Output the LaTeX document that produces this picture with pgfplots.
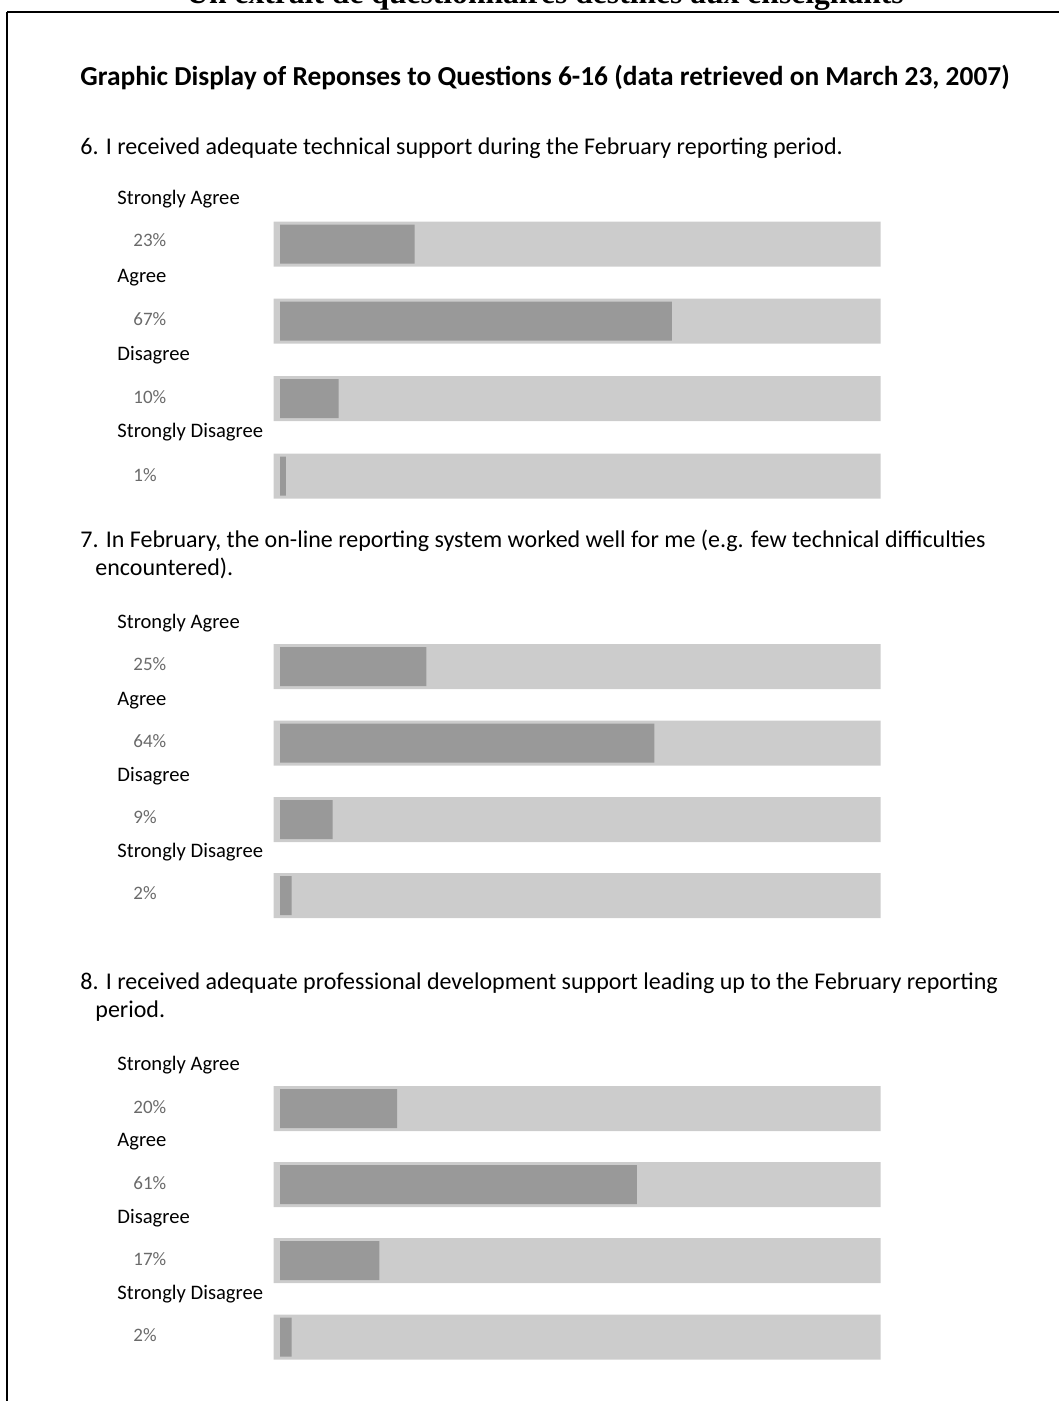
\documentclass[border=0pt]{standalone}
\usepackage{pgfplots}
\usepackage{pgfplotstable}
\pgfplotsset{compat=1.18}
\usepackage{fontspec}
\setmainfont{Carlito}
\newfontfamily\titlefont{Liberation Serif}
\definecolor{bgbar}{HTML}{CCCCCC}
\definecolor{fgbar}{HTML}{999999}
\definecolor{pctcol}{HTML}{6A6A6A}

% pct = response share, ypos = vertical position of the bar (px from top)
\pgfplotstableread{
pct ypos
23 244
67 321
10 398.5
1  476
}\qsix
\pgfplotstableread{
pct ypos
25 666.5
64 743
9  819.5
2  895.5
}\qseven
\pgfplotstableread{
pct ypos
20 1108.5
61 1184.5
17 1260.5
2  1337
}\qeight

\pgfplotsset{
  barpage/.style={
    scale only axis, height=700.5pt,
    xmin=0, xmax=100, ymin=0, ymax=1401, y dir=reverse,
    hide axis, xbar, /pgf/bar shift=0pt, anchor=north west,
  }
}

\begin{document}
\begin{tikzpicture}
\useasboundingbox (0,0) rectangle (529.5pt,-700.5pt);
\clip (0,0) rectangle (529.5pt,-700.5pt);

% background (full) bars
\begin{axis}[barpage, width=303.5pt, at={(136.75pt,0pt)}]
\addplot[fill=bgbar, draw=none, bar width=45] table[x expr=100, y=ypos] {\qsix};
\addplot[fill=bgbar, draw=none, bar width=45] table[x expr=100, y=ypos] {\qseven};
\addplot[fill=bgbar, draw=none, bar width=45] table[x expr=100, y=ypos] {\qeight};
\end{axis}

% response bars
\begin{axis}[barpage, width=292.5pt, at={(140pt,0pt)}]
\addplot[fill=fgbar, draw=none, bar width=39] table[x=pct, y=ypos] {\qsix};
\addplot[fill=fgbar, draw=none, bar width=39] table[x=pct, y=ypos] {\qseven};
\addplot[fill=fgbar, draw=none, bar width=39] table[x=pct, y=ypos] {\qeight};
\end{axis}

\begin{scope}[x=0.5pt, y=-0.5pt]
\node[anchor=base, inner sep=0, font=\titlefont\bfseries\fontsize{15.8}{18}\selectfont] at (545,4) {Un extrait de questionnaires destinés aux enseignants};
\draw[line width=1.25pt] (7,12) -- (1059,12);
\draw[line width=1.25pt] (7,12) -- (7,1401);

\node[anchor=base west, inner sep=0, font=\bfseries\fontsize{13.7}{16}\selectfont] at (80,86) {Graphic Display of Reponses to Questions 6-16 (data retrieved on March 23, 2007)};

\tikzset{qtext/.style={anchor=base west, inner sep=0, font=\fontsize{12}{14}\selectfont},
         lab/.style={anchor=base west, inner sep=0, font=\fontsize{10.3}{12}\selectfont},
         pc/.style={anchor=base west, inner sep=0, text=pctcol, font=\fontsize{9.5}{11}\selectfont}}

\node[qtext] at (80,155) {6. I received adequate technical support during the February reporting period.};
\node[qtext] at (80,547) {7. In February, the on-line reporting system worked well for me (e.g. few technical difficulties};
\node[qtext] at (95,575) {encountered).};
\node[qtext] at (80,989) {8. I received adequate professional development support leading up to the February reporting};
\node[qtext] at (95,1017) {period.};

% Q6 labels
\node[lab] at (117,205) {Strongly Agree};
\node[pc]  at (133,247) {23\%};
\node[lab] at (117,283) {Agree};
\node[pc]  at (133,326) {67\%};
\node[lab] at (117,360) {Disagree};
\node[pc]  at (133,403) {10\%};
\node[lab] at (117,437) {Strongly Disagree};
\node[pc]  at (133,481) {1\%};
% Q7 labels
\node[lab] at (117,628) {Strongly Agree};
\node[pc]  at (133,670) {25\%};
\node[lab] at (117,705) {Agree};
\node[pc]  at (133,747) {64\%};
\node[lab] at (117,781) {Disagree};
\node[pc]  at (133,823) {9\%};
\node[lab] at (117,857) {Strongly Disagree};
\node[pc]  at (133,899) {2\%};
% Q8 labels
\node[lab] at (117,1070) {Strongly Agree};
\node[pc]  at (133,1113) {20\%};
\node[lab] at (117,1146) {Agree};
\node[pc]  at (133,1189) {61\%};
\node[lab] at (117,1223) {Disagree};
\node[pc]  at (133,1265) {17\%};
\node[lab] at (117,1299) {Strongly Disagree};
\node[pc]  at (133,1341) {2\%};
\end{scope}
\end{tikzpicture}
\end{document}
